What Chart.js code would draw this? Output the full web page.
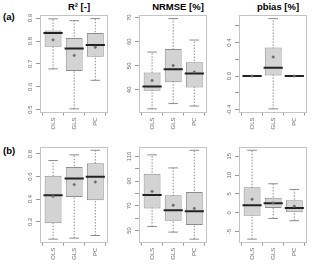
<!DOCTYPE html>
<html><head><meta charset="utf-8">
<script src="https://cdn.jsdelivr.net/npm/chart.js@4.4.1/dist/chart.umd.min.js"></script>
<style>
body{margin:0;background:#fff;width:320px;height:270px;overflow:hidden;position:relative;font-family:"Liberation Sans",Arial,sans-serif}
canvas{position:absolute}
.t{position:absolute;font-weight:bold;font-size:9.5px;line-height:11px;color:#000;text-align:center;white-space:nowrap}
.p{position:absolute;font-weight:bold;font-size:9.5px;line-height:11px;color:#000;white-space:nowrap}
</style></head><body>
<div class="t" style="left:40px;top:1px;width:78px">R² [-]</div>
<div class="t" style="left:139px;top:1px;width:78px">NRMSE [%]</div>
<div class="t" style="left:239px;top:1px;width:78px">pbias [%]</div>
<div class="p" style="left:3px;top:11px">(a)</div>
<div class="p" style="left:3px;top:145px">(b)</div>
<canvas id="c1" width="120" height="135" style="left:0px;top:0px"></canvas>
<canvas id="c2" width="120" height="135" style="left:99px;top:0px"></canvas>
<canvas id="c3" width="120" height="135" style="left:199px;top:0px"></canvas>
<canvas id="c4" width="120" height="135" style="left:0px;top:135px"></canvas>
<canvas id="c5" width="120" height="135" style="left:99px;top:135px"></canvas>
<canvas id="c6" width="120" height="135" style="left:199px;top:135px"></canvas>
<script>
// ---- data ----
const categories = ["OLS", "GLS", "PC"];

// (a) R²
const r2aLow    = [0.678, 0.503, 0.628];
const r2aQ1     = [0.775, 0.669, 0.731];
const r2aMedian = [0.835, 0.767, 0.783];
const r2aQ3     = [0.846, 0.813, 0.835];
const r2aHigh   = [0.897, 0.889, 0.898];
const r2aMean   = [0.805, 0.737, 0.773];
const r2aTicks  = [0.5, 0.6, 0.7, 0.8, 0.9];
const r2aLabels = [0.5, 0.6, 0.7, 0.8, 0.9];

// (a) NRMSE
const nrmseaLow    = [32.1, 34.3, 33.3];
const nrmseaQ1     = [39.6, 43.2, 41.0];
const nrmseaMedian = [41.4, 48.6, 46.8];
const nrmseaQ3     = [47.2, 57.0, 51.5];
const nrmseaHigh   = [55.7, 69.6, 60.7];
const nrmseaMean   = [43.9, 50.1, 47.4];
const nrmseaTicks  = [40, 50, 60, 70];
const nrmseaLabels = [40, 50, 60, 70];

// (a) pbias
const pbiasaLow    = [0, -0.39, 0];
const pbiasaQ1     = [0, 0.0, 0];
const pbiasaMedian = [0, 0.10, 0];
const pbiasaQ3     = [0, 0.34, 0];
const pbiasaHigh   = [0, 0.684, 0];
const pbiasaMean   = [0, 0.228, 0];
const pbiasaTicks  = [-0.4, -0.2, 0, 0.2, 0.4, 0.6];
const pbiasaLabels = [-0.4, 0, 0.4];

// (b) R²
const r2bLow    = [0.046, 0.055, 0.078];
const r2bQ1     = [0.187, 0.420, 0.391];
const r2bMedian = [0.435, 0.584, 0.599];
const r2bQ3     = [0.608, 0.684, 0.719];
const r2bHigh   = [0.742, 0.792, 0.833];
const r2bMean   = [0.426, 0.529, 0.552];
const r2bTicks  = [0.2, 0.4, 0.6, 0.8];
const r2bLabels = [0.2, 0.4, 0.6, 0.8];

// (b) NRMSE
const nrmsebLow    = [53.2, 48.7, 43.0];
const nrmsebQ1     = [67.9, 58.0, 54.5];
const nrmsebMedian = [78.8, 66.5, 65.5];
const nrmsebQ3     = [95.9, 78.5, 81.2];
const nrmsebHigh   = [111.3, 100.7, 115.0];
const nrmsebMean   = [81.7, 70.5, 67.9];
const nrmsebTicks  = [50, 60, 70, 80, 90, 100, 110];
const nrmsebLabels = [50, 70, 90, 110];

// (b) pbias
const pbiasbLow    = [-7.0, -1.5, -2.1];
const pbiasbQ1     = [-0.8, 1.3, 0.0];
const pbiasbMedian = [2.0, 2.5, 1.3];
const pbiasbQ3     = [6.8, 4.0, 3.3];
const pbiasbHigh   = [16.6, 7.7, 6.2];
const pbiasbMean   = [3.6, 2.6, 1.75];
const pbiasbTicks  = [-5, 0, 5, 10, 15];
const pbiasbLabels = [-5, 0, 5, 10, 15];

// ---- drawing ----
const GRAY = '#8c8c8c';
const TXT = '#6e6e6e';
const FONT = '"Liberation Sans", Arial, sans-serif';

const framePlugin = {
  id: 'frame',
  afterDraw(chart) {
    const ctx = chart.ctx, a = chart.chartArea;
    const o = chart.options.plugins.frame;
    ctx.save();
    ctx.strokeStyle = '#c4c4c4';
    ctx.lineWidth = 1;
    ctx.strokeRect(Math.round(a.left) + 0.5, Math.round(a.top) + 0.5,
                   Math.round(a.right - a.left) - 1, Math.round(a.bottom - a.top) - 1);
    const ys = chart.scales.y;
    ctx.fillStyle = TXT;
    ctx.font = '6px ' + FONT;
    ctx.textAlign = 'center';
    ctx.textBaseline = 'alphabetic';
    o.labels.forEach(v => {
      const y = ys.getPixelForValue(v);
      ctx.save();
      ctx.translate(a.left - 8, y);
      ctx.rotate(-Math.PI / 2);
      ctx.fillText(v.toFixed(o.dec), 0, 0);
      ctx.restore();
    });
    ctx.restore();
  }
};

function panel(id, lo, q1, med, q3, hi, mean, ticks, labels, dec, padTop, xh) {
  const xs = categories.map((c, i) => i + 1);
  const whisk = [];
  xs.forEach((x, i) => { whisk.push({x, y: lo[i]}, {x, y: hi[i]}, {x, y: null}); });
  const caps = [];
  xs.forEach((x, i) => { caps.push({x, y: lo[i]}, {x, y: hi[i]}); });
  const all = lo.concat(hi, mean);
  const dmin = Math.min(...all), dmax = Math.max(...all);
  const ext = (dmax - dmin) * 0.04;
  new Chart(document.getElementById(id), {
    type: 'bar',
    data: {
      datasets: [
        {type: 'line', data: whisk, borderColor: GRAY, borderWidth: 1, borderDash: [1.5, 1.5],
         pointRadius: 0, spanGaps: false, order: 5},
        {type: 'bar', data: xs.map((x, i) => ({x, y: [q1[i], q3[i]]})), backgroundColor: '#d3d3d3',
         borderColor: GRAY, borderWidth: 1, borderSkipped: false, barPercentage: 0.8,
         categoryPercentage: 1, order: 4},
        {type: 'line', data: caps, showLine: false, pointStyle: 'line', pointRadius: 4.8,
         pointBorderColor: GRAY, pointBorderWidth: 1, order: 3},
        {type: 'line', data: xs.map((x, i) => ({x, y: med[i]})), showLine: false, pointStyle: 'line',
         pointRadius: 9.6, pointBorderColor: '#222', pointBorderWidth: 2, order: 2},
        {type: 'line', data: xs.map((x, i) => ({x, y: mean[i]})), showLine: false, pointStyle: 'circle',
         pointRadius: 1.2, pointBackgroundColor: '#6a6a6a', pointBorderColor: '#6a6a6a',
         pointBorderWidth: 0.5, order: 1}
      ]
    },
    options: {
      responsive: false, animation: false, devicePixelRatio: 1,
      layout: {padding: {top: padTop, right: 2, left: 0, bottom: 0}},
      plugins: {legend: {display: false}, tooltip: {enabled: false}, frame: {labels, dec}},
      scales: {
        x: {
          type: 'linear', min: 0.38, max: 3.62, offset: false,
          afterBuildTicks: sc => { sc.ticks = xs.map(v => ({value: v})); },
          afterFit: sc => { sc.height = xh; },
          ticks: {callback: v => categories[v - 1], minRotation: 90, maxRotation: 90, autoSkip: false,
                  font: {size: 6, family: FONT}, color: TXT, padding: 2},
          grid: {drawOnChartArea: false, drawTicks: true, tickLength: 3, color: '#999'},
          border: {display: false}
        },
        y: {
          type: 'linear', min: dmin - ext, max: dmax + ext,
          afterBuildTicks: sc => { sc.ticks = ticks.map(v => ({value: v})); },
          afterFit: sc => { sc.width = 40; },
          ticks: {display: false},
          grid: {drawOnChartArea: false, drawTicks: true, tickLength: 4, color: '#999'},
          border: {display: false}
        }
      }
    },
    plugins: [framePlugin]
  });
}

panel('c1', r2aLow, r2aQ1, r2aMedian, r2aQ3, r2aHigh, r2aMean, r2aTicks, r2aLabels, 1, 15, 22.5);
panel('c2', nrmseaLow, nrmseaQ1, nrmseaMedian, nrmseaQ3, nrmseaHigh, nrmseaMean, nrmseaTicks, nrmseaLabels, 0, 15, 22.5);
panel('c3', pbiasaLow, pbiasaQ1, pbiasaMedian, pbiasaQ3, pbiasaHigh, pbiasaMean, pbiasaTicks, pbiasaLabels, 1, 15, 22.5);
panel('c4', r2bLow, r2bQ1, r2bMedian, r2bQ3, r2bHigh, r2bMean, r2bTicks, r2bLabels, 1, 11.7, 27.3);
panel('c5', nrmsebLow, nrmsebQ1, nrmsebMedian, nrmsebQ3, nrmsebHigh, nrmsebMean, nrmsebTicks, nrmsebLabels, 0, 11.7, 27.3);
panel('c6', pbiasbLow, pbiasbQ1, pbiasbMedian, pbiasbQ3, pbiasbHigh, pbiasbMean, pbiasbTicks, pbiasbLabels, 0, 11.7, 27.3);
</script>
</body></html>
